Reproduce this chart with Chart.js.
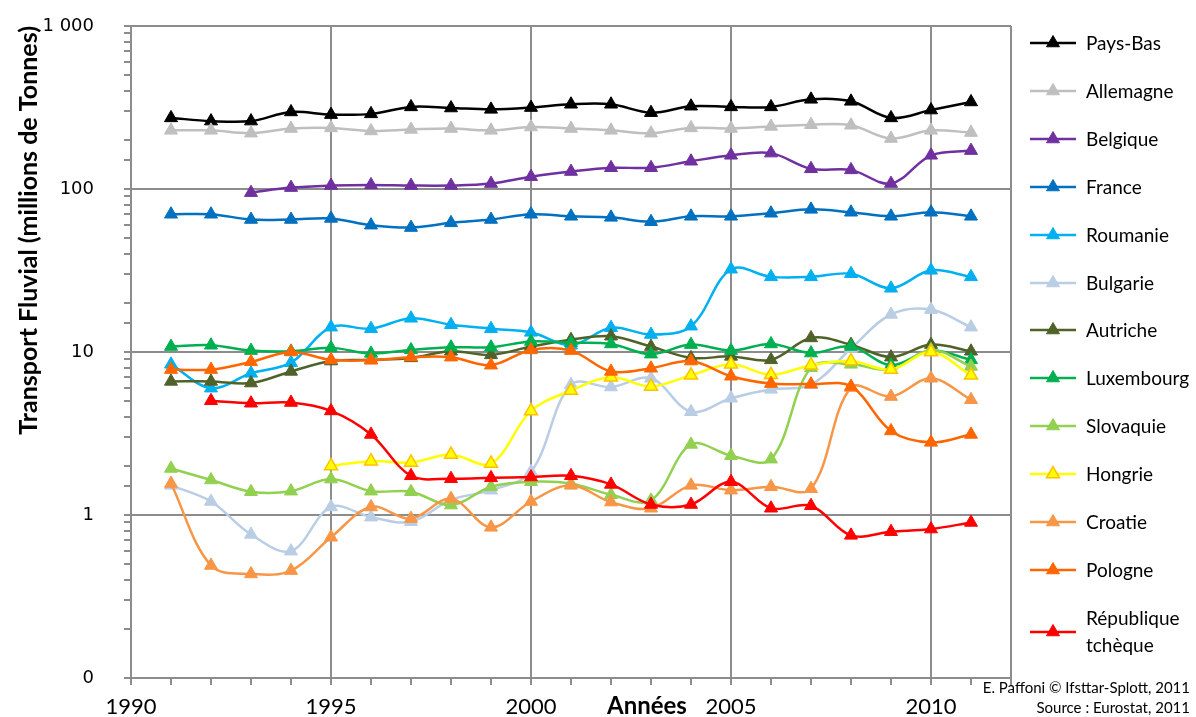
<!DOCTYPE html>
<html>
<head>
<meta charset="utf-8">
<script src="https://cdn.jsdelivr.net/npm/chart.js@4/dist/chart.umd.min.js"></script>
<style>
body{margin:0;background:#fff;font-family:Lato,"Open Sans",sans-serif;}
#wrap{position:relative;width:1196px;height:717px;overflow:hidden;}
#chart{position:absolute;left:0;top:0;}
#legend{position:absolute;left:1030px;top:0;}
.item{position:absolute;left:0;width:170px;height:24px;}
.item svg{position:absolute;left:0;top:4px;}
.item span{position:absolute;left:56px;top:0;font-size:19px;line-height:24px;color:#000;white-space:nowrap;}
.note{position:absolute;right:6px;font-size:15px;color:#000;}
#xtitle{position:absolute;left:607px;top:690px;font-size:24px;line-height:29px;font-weight:bold;}
</style>
</head>
<body>
<div id="wrap">
<canvas id="chart" width="1196" height="717"></canvas>
<div id="legend"></div>
<div id="xtitle">Années</div>
<div class="note" style="top:678px">E. Paffoni © Ifsttar-Splott, 2011</div>
<div class="note" style="top:698px">Source : Eurostat, 2011</div>
</div>
<script>
// années
const years=[1991,1992,1993,1994,1995,1996,1997,1998,1999,2000,2001,2002,2003,2004,2005,2006,2007,2008,2009,2010,2011];

// millions de tonnes par pays
const paysBas=[273,261,261,297,286,289,319,314,308,316,331,331,294,322,319,319,355,345,273,305,342];
const allemagne=[229,229,220,235,237,227,232,235,229,240,235,229,220,237,235,242,248,246,204,229,222];
const belgique=[null,null,95,102,105,106,105,105,108,119,128,135,135,148,161,166,133,131,108,161,172];
const france=[70,70,65,65,66,60,58,62,65,70,68,67,63,68,68,71,75,72,68,72,68];
const roumanie=[8.4,6.0,7.4,8.6,14.2,13.9,16.1,14.7,13.9,13.2,11,14.1,12.8,14.4,32.2,28.9,28.9,30.2,24.6,31.7,28.9];
const bulgarie=[1.52,1.21,0.76,0.60,1.12,0.97,0.91,1.24,1.42,1.84,6.3,6.1,6.9,4.3,5.2,5.9,6.3,10.5,17.0,18.2,14.2];
const autriche=[6.6,6.6,6.45,7.6,8.8,8.95,9.2,10.1,9.6,10.8,11.9,12.5,10.8,9.2,9.4,8.95,12.2,11.1,9.3,11.1,10.1];
const luxembourg=[10.8,11.0,10.2,10.1,10.6,9.8,10.3,10.7,10.7,11.6,11.4,11.2,9.7,11.1,10.2,11.2,9.85,10.8,8.3,10.2,8.95];
const slovaquie=[1.93,1.64,1.39,1.40,1.66,1.40,1.39,1.15,1.49,1.60,1.56,1.33,1.23,2.71,2.31,2.2,8.0,8.4,7.8,10.3,8.15];
const hongrie=[null,null,null,null,2.0,2.14,2.1,2.35,2.07,4.35,5.8,7.0,6.15,7.2,8.4,7.25,8.3,8.8,7.8,10.0,7.2];
const croatie=[1.56,0.49,0.435,0.456,0.73,1.12,0.95,1.26,0.84,1.21,1.52,1.20,1.10,1.52,1.42,1.49,1.45,6.05,5.33,6.9,5.09];
const pologne=[7.8,7.8,8.7,10.0,8.95,8.9,9.3,9.3,8.3,10.3,10.2,7.6,7.95,8.8,7.1,6.4,6.35,6.15,3.28,2.79,3.12];
const repTcheque=[null,5.02,4.85,4.9,4.35,3.12,1.74,1.67,1.69,1.71,1.74,1.54,1.16,1.16,1.6,1.10,1.14,0.75,0.79,0.82,0.90];

const series=[
  {label:"Pays-Bas",data:paysBas,color:"#000000"},
  {label:"Allemagne",data:allemagne,color:"#BFBFBF"},
  {label:"Belgique",data:belgique,color:"#7030A0"},
  {label:"France",data:france,color:"#0070C0"},
  {label:"Roumanie",data:roumanie,color:"#00B0F0"},
  {label:"Bulgarie",data:bulgarie,color:"#B9CDE5"},
  {label:"Autriche",data:autriche,color:"#4F6228"},
  {label:"Luxembourg",data:luxembourg,color:"#00B050"},
  {label:"Slovaquie",data:slovaquie,color:"#92D050"},
  {label:"Hongrie",data:hongrie,color:"#FFFF00",border:"#FFC000"},
  {label:"Croatie",data:croatie,color:"#F79646"},
  {label:"Pologne",data:pologne,color:"#FF6600"},
  {label:"République\ntchèque",data:repTcheque,color:"#FF0000"}
];

const gridGrey="#8C8C8C";
const isDecade=v=>Math.abs(Math.log10(v)-Math.round(Math.log10(v)))<1e-6;

const datasets=series.map((s,i)=>({
  label:s.label,
  data:years.map((y,j)=>({x:y,y:s.data[j]})),
  borderColor:s.color,
  backgroundColor:s.color,
  pointBackgroundColor:s.color,
  pointBorderColor:s.border||s.color,
  pointBorderWidth:s.border?1.5:1,
  pointStyle:"triangle",
  pointRadius:7.5,
  borderWidth:2.5,
  tension:0.35,
  spanGaps:false,
  order:series.length-i
}));

new Chart(document.getElementById("chart"),{
  type:"line",
  data:{datasets:datasets},
  options:{
    responsive:false,
    animation:false,
    layout:{padding:{left:0,right:185,top:26,bottom:0}},
    plugins:{legend:{display:false},tooltip:{enabled:false}},
    scales:{
      x:{
        type:"linear",min:1990,max:2012,
        afterFit:function(scale){scale.height=39;},
        border:{color:gridGrey,width:2},
        grid:{
          color:ctx=>(ctx.tick&&(ctx.tick.value%5===0||ctx.tick.value===2012))?gridGrey:"rgba(0,0,0,0)",
          tickColor:gridGrey,lineWidth:2,tickLength:7
        },
        ticks:{
          stepSize:1,autoSkip:false,maxRotation:0,padding:9,color:"#000",
          font:{family:"Lato",size:22},
          callback:v=>(v%5===0&&v<=2010)?String(v):""
        }
      },
      y:{
        type:"logarithmic",min:0.1,max:1000,
        afterFit:function(scale){scale.width=131;scale.paddingTop=10;scale.paddingBottom=10;},
        border:{color:gridGrey,width:2},
        grid:{
          color:ctx=>(ctx.tick&&isDecade(ctx.tick.value))?gridGrey:"rgba(0,0,0,0)",
          tickColor:gridGrey,lineWidth:2,tickLength:7
        },
        ticks:{
          autoSkip:false,padding:30,color:"#000",
          font:{family:"DejaVu Sans",size:18},
          callback:function(v){
            if(!isDecade(v)) return "";
            if(v<0.5) return "0";
            if(v>=1000) return "1 000";
            return String(Math.round(v));
          }
        },
        title:{
          display:true,text:"Transport Fluvial (millions de Tonnes)",align:"end",color:"#000",
          font:{family:"Lato",size:25,weight:"bold"},padding:{top:14,bottom:0}
        }
      }
    }
  }
});

// légende
const legend=document.getElementById("legend");
series.forEach((s,i)=>{
  const top=31+i*47.9;
  const div=document.createElement("div");
  div.className="item";
  div.style.top=top+"px";
  const fill=s.color, stroke=s.border||s.color;
  const lines=s.label.split("\n");
  const ly=lines.length>1?26:12;
  div.innerHTML='<svg width="50" height="40" style="top:0px"><line x1="0" y1="'+ly+'" x2="46" y2="'+ly+'" stroke="'+fill+'" stroke-width="2.5"/></svg>';
  const svgNS="http://www.w3.org/2000/svg";
  const svg=div.querySelector("svg");
  const tri=document.createElementNS(svgNS,"polygon");
  const r=7.5, cx=23;
  tri.setAttribute("points",(cx)+","+(ly-r)+" "+(cx+r*0.866)+","+(ly+r*0.5)+" "+(cx-r*0.866)+","+(ly+r*0.5));
  tri.setAttribute("fill",fill);
  tri.setAttribute("stroke",stroke);
  tri.setAttribute("stroke-width",s.border?1.5:1);
  svg.appendChild(tri);
  lines.forEach((t,k)=>{
    const sp=document.createElement("span");
    sp.textContent=t;
    sp.style.top=(k*27)+"px";
    div.appendChild(sp);
  });
  legend.appendChild(div);
});
</script>
</body>
</html>
